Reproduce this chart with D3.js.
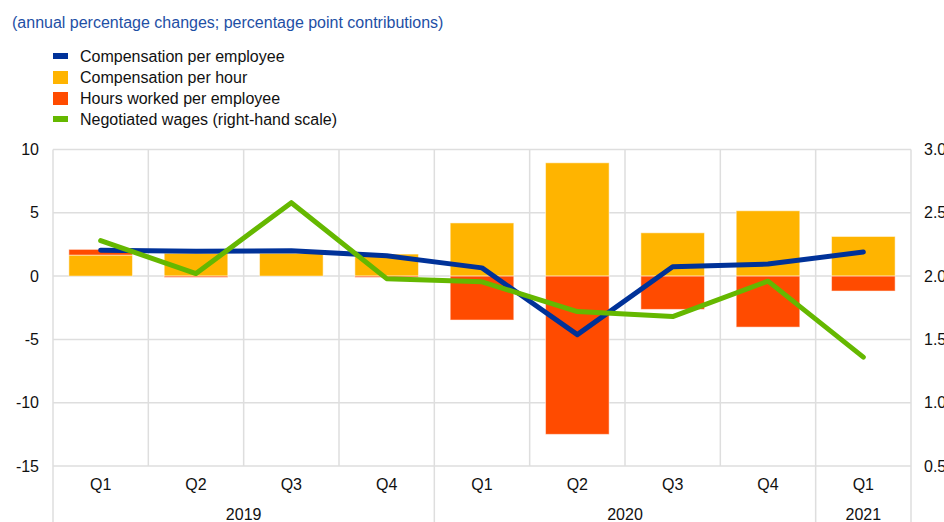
<!DOCTYPE html>
<html><head><meta charset="utf-8">
<script src="https://cdn.jsdelivr.net/npm/d3@7"></script>
<style>
body{margin:0;background:#fff;}
svg{display:block;font-family:"Liberation Sans",Arial,sans-serif;}
</style></head>
<body><svg id="c" width="944" height="522"></svg>
<script>
const quarters = ["Q1","Q2","Q3","Q4","Q1","Q2","Q3","Q4","Q1"];
const years = [{label:"2019", from:0, to:4},{label:"2020", from:4, to:8},{label:"2021", from:8, to:9}];
const compPerHour = [1.66, 1.8, 1.8, 1.74, 4.2, 8.95, 3.42, 5.16, 3.13];
const hoursWorked = [0.45, -0.1, 0.0, -0.1, -3.47, -12.5, -2.63, -4.03, -1.18];
const compPerEmployee = [2.05, 1.97, 2.0, 1.6, 0.65, -4.62, 0.74, 0.95, 1.9];
const negotiatedWages = [2.28, 2.02, 2.58, 1.98, 1.955, 1.72, 1.68, 1.96, 1.36];
const leftTicks = [10, 5, 0, -5, -10, -15];
const rightTicks = [3.0, 2.5, 2.0, 1.5, 1.0, 0.5];
const legendItems = [
  {label:"Compensation per employee", color:"#003299", type:"line"},
  {label:"Compensation per hour", color:"#ffb400", type:"box"},
  {label:"Hours worked per employee", color:"#ff4b00", type:"box"},
  {label:"Negotiated wages (right-hand scale)", color:"#65b800", type:"line"}
];
const title = "(annual percentage changes; percentage point contributions)";

const svg = d3.select("#c");
const FS = "16px";
const L = 53, R = 911, T = 149.5, B = 466;
const idx = d3.range(quarters.length);
const x = d3.scaleBand().domain(idx).range([L, R]).paddingInner(0).paddingOuter(0);
const y = d3.scaleLinear().domain([-15, 10]).range([B, T]);
const y2 = d3.scaleLinear().domain([0.5, 3.0]).range([B, T]);
const grid = "#dedede";

// title
svg.append("text").attr("x", 12).attr("y", 28).attr("fill", "#1e4fa5")
  .style("font-size", FS).text(title);

// legend
const lg = svg.append("g");
legendItems.forEach((d, i) => {
  const cy = 56 + i * 21;
  if (d.type === "line") lg.append("rect").attr("x", 53).attr("y", cy - 3).attr("width", 15).attr("height", 6).attr("fill", d.color);
  else lg.append("rect").attr("x", 53).attr("y", cy - 6).attr("width", 15).attr("height", 13).attr("fill", d.color);
  lg.append("text").attr("x", 80).attr("y", cy + 5.5).attr("fill", "#111").style("font-size", FS).text(d.label);
});

// horizontal gridlines
svg.append("g").selectAll("line").data(leftTicks).join("line")
  .attr("x1", L).attr("x2", R).attr("y1", d => y(d)).attr("y2", d => y(d))
  .attr("stroke", grid).attr("stroke-width", 1.5);

// vertical gridlines
const boundaries = d3.range(quarters.length + 1);
const yearEdges = new Set([0, ...years.map(d => d.to)]);
svg.append("g").selectAll("line").data(boundaries).join("line")
  .attr("x1", d => d < quarters.length ? x(d) : R).attr("x2", d => d < quarters.length ? x(d) : R)
  .attr("y1", T).attr("y2", d => yearEdges.has(d) ? 522 : B)
  .attr("stroke", grid).attr("stroke-width", 1.5);

// bars
const bw = x.bandwidth() * 0.667;
const bx = i => x(i) + (x.bandwidth() - bw) / 2;
svg.append("g").selectAll("rect").data(idx).join("rect")
  .attr("x", i => bx(i)).attr("width", bw)
  .attr("y", i => y(Math.max(0, compPerHour[i]))).attr("height", i => Math.abs(y(compPerHour[i]) - y(0)))
  .attr("fill", "#ffb400").attr("stroke", "#fff").attr("stroke-opacity", 0.5).attr("stroke-width", 1);
// hours worked stacked: positive on top of yellow, negative below zero
svg.append("g").selectAll("rect").data(idx).join("rect")
  .attr("x", i => bx(i)).attr("width", bw)
  .attr("y", i => hoursWorked[i] >= 0 ? y(compPerHour[i] + hoursWorked[i]) : y(0))
  .attr("height", i => Math.abs(y(hoursWorked[i]) - y(0)))
  .attr("fill", "#ff4b00").attr("stroke", "#fff").attr("stroke-opacity", 0.5).attr("stroke-width", 1);

const cx = i => x(i) + x.bandwidth() / 2;
// lines
svg.append("path").datum(idx)
  .attr("d", d3.line().x(cx).y(i => y(compPerEmployee[i])))
  .attr("fill", "none").attr("stroke", "#003299").attr("stroke-width", 5)
  .attr("stroke-linecap", "round").attr("stroke-linejoin", "round");
svg.append("path").datum(idx)
  .attr("d", d3.line().x(cx).y(i => y2(negotiatedWages[i])))
  .attr("fill", "none").attr("stroke", "#65b800").attr("stroke-width", 5)
  .attr("stroke-linecap", "round").attr("stroke-linejoin", "round");

// left axis labels
svg.append("g").selectAll("text").data(leftTicks).join("text")
  .attr("x", 39).attr("y", d => y(d) + 5.5).attr("text-anchor", "end")
  .attr("fill", "#111").style("font-size", FS).text(d => d);
// right axis labels (clipped by the page edge, as in the reference)
svg.append("g").selectAll("text").data(rightTicks).join("text")
  .attr("x", 924).attr("y", d => y2(d) + 5.5).attr("text-anchor", "start")
  .attr("fill", "#111").style("font-size", FS).text(d => d3.format(".1f")(d));

// quarter labels
svg.append("g").selectAll("text").data(idx).join("text")
  .attr("x", cx).attr("y", 490).attr("text-anchor", "middle")
  .attr("fill", "#111").style("font-size", FS).text(i => quarters[i]);
// year labels
svg.append("g").selectAll("text").data(years).join("text")
  .attr("x", d => (x(d.from) + (d.to < quarters.length ? x(d.to) : R)) / 2).attr("y", 520)
  .attr("text-anchor", "middle").attr("fill", "#111").style("font-size", FS).text(d => d.label);
</script></body></html>
